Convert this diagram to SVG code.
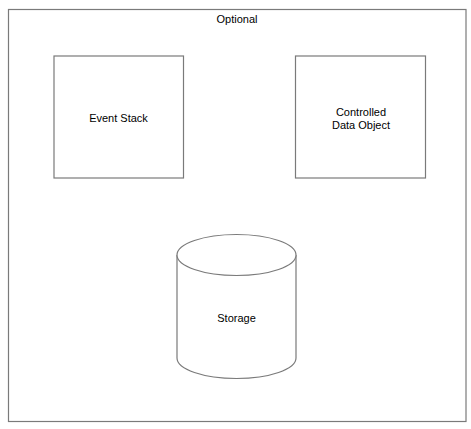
<svg xmlns="http://www.w3.org/2000/svg" width="471" height="429" viewBox="0 0 471 429">
<style>
.s{fill:#fff;stroke:#7a7a7a;stroke-width:1.2}
.t{font-family:"Liberation Sans",Arial,sans-serif;font-size:11px;fill:#000;text-anchor:middle}
</style>
<rect width="471" height="429" fill="#fff"/>
<g id="optional">
<rect class="s" x="8.5" y="9.5" width="457.5" height="412"/>
<text class="t" x="237" y="23">Optional</text>
</g>
<g id="event-stack">
<rect class="s" x="54" y="56" width="129.5" height="122"/>
<text class="t" x="118.5" y="122">Event Stack</text>
</g>
<g id="controlled-data-object">
<rect class="s" x="295.5" y="56" width="130" height="122"/>
<text class="t" x="361" y="116">Controlled</text>
<text class="t" x="361" y="129">Data Object</text>
</g>
<g id="storage">
<path class="s" d="M177,255 L177,358 A59.5,20.5 0 0 0 296,358 L296,255 A59.5,20.5 0 0 0 177,255 Z"/>
<path class="s" fill="none" d="M177,255 A59.5,20.5 0 0 0 296,255"/>
<text class="t" x="236.5" y="322">Storage</text>
</g>
<g id="connectors"></g>
</svg>
